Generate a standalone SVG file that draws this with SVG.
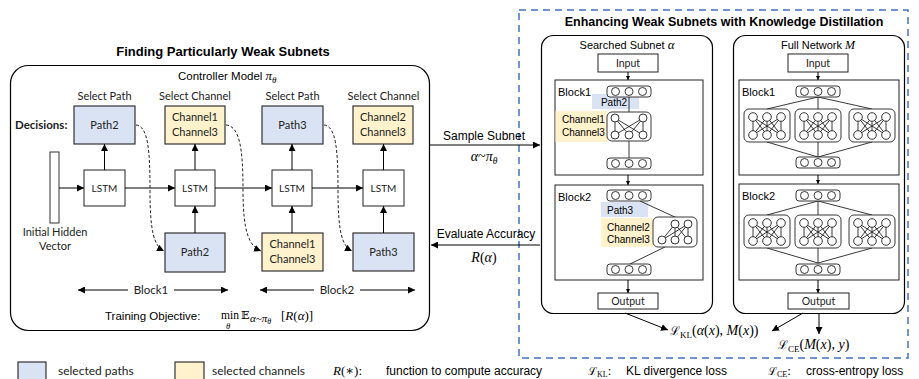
<svg xmlns="http://www.w3.org/2000/svg" xmlns:xlink="http://www.w3.org/1999/xlink" width="919" height="379" viewBox="0 0 919 379">
<style>
.t{font-family:"Liberation Sans",Arial,sans-serif;fill:#000}
.c{font-family:Lato,"Liberation Sans",sans-serif;fill:#222}
.m{font-family:"Liberation Serif","DejaVu Serif",serif;fill:#000}
.sc{font-family:"DejaVu Serif","Liberation Serif",serif}
.i{font-style:italic}
.box{stroke:#333;stroke-width:1.2}
.blue{fill:#DAE3F3}
.yel{fill:#FFF2CC}
.wb{fill:#fff;stroke:#222;stroke-width:1}
.ln{stroke:#000;stroke-width:1;fill:none}
.thin{stroke:#222;stroke-width:0.9;fill:none}
.dash{stroke:#222;stroke-width:1;fill:none;stroke-dasharray:3 2}
.nc{fill:#fff;stroke:#222;stroke-width:0.9}
</style>
<defs>
<marker id="ah" viewBox="0 0 10 10" refX="10" refY="5" markerWidth="7" markerHeight="7" orient="auto-start-reverse"><path d="M0,0 L10,5 L0,10 z" fill="#000"/></marker>
<marker id="as" viewBox="0 0 10 10" refX="10" refY="5" markerWidth="4" markerHeight="4" orient="auto-start-reverse"><path d="M0,0 L10,5 L0,10 z" fill="#000"/></marker>
<g id="L3">
<rect x="0" y="0" width="44" height="11" rx="3" class="nc"/>
<circle cx="8.5" cy="5.5" r="4" class="nc"/><circle cx="22" cy="5.5" r="4" class="nc"/><circle cx="35.5" cy="5.5" r="4" class="nc"/>
</g>
<g id="S33">
<rect x="0" y="0" width="46" height="33" rx="5" class="nc"/>
<path class="thin" d="M9,8 L9,26 M9,8 L23,26 M9,8 L37,26 M23,8 L9,26 M23,8 L23,26 M23,8 L37,26 M37,8 L9,26 M37,8 L23,26 M37,8 L37,26"/>
<circle cx="9" cy="8" r="4.3" class="nc"/><circle cx="23" cy="8" r="4.3" class="nc"/><circle cx="37" cy="8" r="4.3" class="nc"/>
<circle cx="9" cy="26" r="4.3" class="nc"/><circle cx="23" cy="26" r="4.3" class="nc"/><circle cx="37" cy="26" r="4.3" class="nc"/>
</g>
</defs>
<rect width="919" height="379" fill="#fff"/>

<!-- Left panel -->
<g id="left-panel">
<text class="t" x="223" y="56" font-size="13" font-weight="bold" text-anchor="middle">Finding Particularly Weak Subnets</text>
<rect x="10.5" y="65.5" width="419" height="265" rx="18" fill="none" stroke="#000" stroke-width="1.2"/>
<text class="t" x="178" y="80" font-size="11.5">Controller Model <tspan class="m i" font-size="13">π</tspan><tspan class="m i" font-size="9" dy="3">θ</tspan></text>
<text class="c" x="15" y="129" font-size="11.5" font-weight="bold">Decisions:</text>
<text class="c" x="104.5" y="100" font-size="11" text-anchor="middle">Select Path</text>
<text class="c" x="195" y="100" font-size="11" text-anchor="middle">Select Channel</text>
<text class="c" x="292.5" y="100" font-size="11" text-anchor="middle">Select Path</text>
<text class="c" x="383.5" y="100" font-size="11" text-anchor="middle">Select Channel</text>
</g>

<g id="dec-path2"><rect x="74" y="106" width="61" height="38" class="box blue"/><text class="c" x="104.5" y="129" font-size="11" text-anchor="middle">Path2</text></g>
<g id="dec-ch13"><rect x="165" y="106" width="60" height="38" class="box yel"/><text class="c" x="195" y="121" font-size="11" text-anchor="middle">Channel1</text><text class="c" x="195" y="136" font-size="11" text-anchor="middle">Channel3</text></g>
<g id="dec-path3"><rect x="262" y="106" width="61" height="38" class="box blue"/><text class="c" x="292.5" y="129" font-size="11" text-anchor="middle">Path3</text></g>
<g id="dec-ch23"><rect x="353" y="106" width="60" height="38" class="box yel"/><text class="c" x="383" y="121" font-size="11" text-anchor="middle">Channel2</text><text class="c" x="383" y="136" font-size="11" text-anchor="middle">Channel3</text></g>

<g id="hidden-vector"><rect x="50" y="152" width="9" height="71" fill="#fff" stroke="#333" stroke-width="1"/><text class="c" x="55" y="236" font-size="11" text-anchor="middle">Initial Hidden</text><text class="c" x="55" y="250" font-size="11" text-anchor="middle">Vector</text></g>

<g id="lstm1"><rect x="84" y="170" width="41" height="36" class="wb"/><text class="c" x="104.5" y="192" font-size="10" text-anchor="middle">LSTM</text></g>
<g id="lstm2"><rect x="175" y="170" width="40" height="36" class="wb"/><text class="c" x="195" y="192" font-size="10" text-anchor="middle">LSTM</text></g>
<g id="lstm3"><rect x="272" y="170" width="40" height="36" class="wb"/><text class="c" x="292" y="192" font-size="10" text-anchor="middle">LSTM</text></g>
<g id="lstm4"><rect x="363" y="170" width="41" height="36" class="wb"/><text class="c" x="383.5" y="192" font-size="10" text-anchor="middle">LSTM</text></g>

<g id="in-path2"><rect x="165" y="233" width="60" height="39" class="box blue"/><text class="c" x="195" y="256" font-size="11" text-anchor="middle">Path2</text></g>
<g id="in-ch13"><rect x="262" y="233" width="61" height="38" class="box yel"/><text class="c" x="292.5" y="248" font-size="11" text-anchor="middle">Channel1</text><text class="c" x="292.5" y="263" font-size="11" text-anchor="middle">Channel3</text></g>
<g id="in-path3"><rect x="353" y="233" width="61" height="38" class="box blue"/><text class="c" x="383.5" y="256" font-size="11" text-anchor="middle">Path3</text></g>

<g id="block-labels">
<text class="c" x="151" y="294" font-size="11.5" text-anchor="middle">Block1</text>
<text class="c" x="337" y="294" font-size="11.5" text-anchor="middle">Block2</text>
<text class="t" x="105" y="320" font-size="11.5">Training Objective:</text>
<text class="m" x="221" y="319" font-size="11.5">min</text>
<text class="m i" x="226" y="329" font-size="8.5">θ</text>
<text class="sc" x="241" y="319" font-size="11">𝔼</text>
<text class="m i" x="250" y="322" font-size="11">α~π<tspan font-size="8" dy="2">θ</tspan></text>
<text class="m" x="281" y="320" font-size="13">[<tspan class="i">R</tspan>(<tspan class="i">α</tspan>)]</text>
</g>

<!-- Right panel -->
<g id="kd-panel">
<rect x="519" y="10" width="389" height="348" fill="none" stroke="#4472C4" stroke-width="1.5" stroke-dasharray="7 5"/>
<text class="t" x="724" y="26" font-size="12.5" font-weight="bold" text-anchor="middle">Enhancing Weak Subnets with Knowledge Distillation</text>
</g>

<g id="subnet">
<rect x="541.5" y="35.5" width="171" height="278" rx="12" fill="#fff" stroke="#000" stroke-width="1.2"/>
<text class="t" x="627" y="49" font-size="11" text-anchor="middle">Searched Subnet <tspan class="m i" font-size="13">α</tspan></text>
</g>
<g id="sub-input"><rect x="598" y="54" width="60" height="18" class="wb"/><text class="c" x="628" y="67" font-size="10.5" text-anchor="middle">Input</text></g>
<g id="sub-block1">
<rect x="555" y="80" width="148" height="95" fill="#fff" stroke="#222" stroke-width="1"/>
<text class="t" x="558" y="96" font-size="11">Block1</text>
<rect x="592" y="94" width="47" height="15" class="blue"/>
<rect x="555.5" y="111" width="52" height="31" class="yel"/>
<line x1="629" y1="97" x2="629" y2="112" class="thin"/>
<line x1="629" y1="141" x2="629" y2="158" class="thin"/>
<text class="t" x="614" y="106" font-size="10" text-anchor="middle">Path2</text>
<text class="t" x="562" y="123" font-size="10">Channel1</text>
<text class="t" x="562" y="136" font-size="10">Channel3</text>
<use xlink:href="#L3" x="607" y="86"/>
<rect x="607" y="112" width="44" height="29" rx="5" class="nc"/>
<path class="thin" d="M615,118 L615,135 M615,118 L629,135 M615,118 L643,135 M643,118 L615,135 M643,118 L629,135 M643,118 L643,135"/>
<circle cx="615" cy="118" r="4" class="nc"/><circle cx="643" cy="118" r="4" class="nc"/>
<circle cx="615" cy="135" r="4" class="nc"/><circle cx="629" cy="135" r="4" class="nc"/><circle cx="643" cy="135" r="4" class="nc"/>
<use xlink:href="#L3" x="607" y="158"/>
</g>
<g id="sub-block2">
<rect x="555" y="185" width="148" height="95" fill="#fff" stroke="#222" stroke-width="1"/>
<text class="t" x="558" y="201" font-size="11">Block2</text>
<rect x="601" y="202" width="47" height="15" class="blue"/>
<rect x="601" y="218" width="52" height="29" class="yel"/>
<line x1="640" y1="201" x2="677" y2="218" class="thin"/>
<line x1="630" y1="264" x2="665" y2="247" class="thin"/>
<text class="t" x="607" y="214" font-size="10">Path3</text>
<text class="t" x="607" y="231" font-size="10">Channel2</text>
<text class="t" x="607" y="243" font-size="10">Channel3</text>
<use xlink:href="#L3" x="607" y="190"/>
<rect x="653" y="217" width="44" height="30" rx="5" class="nc"/>
<path class="thin" d="M675,224 L662,240 M675,224 L675,240 M675,224 L688,240 M688,224 L662,240 M688,224 L675,240 M688,224 L688,240"/>
<circle cx="675" cy="224" r="4" class="nc"/><circle cx="688" cy="224" r="4" class="nc"/>
<circle cx="662" cy="240" r="4" class="nc"/><circle cx="675" cy="240" r="4" class="nc"/><circle cx="688" cy="240" r="4" class="nc"/>
<use xlink:href="#L3" x="607" y="264"/>
</g>
<g id="sub-output"><rect x="598" y="293" width="60" height="16" class="wb"/><text class="c" x="628" y="305" font-size="10.5" text-anchor="middle">Output</text></g>

<g id="fullnet">
<rect x="733.5" y="35.5" width="171" height="278" rx="12" fill="#fff" stroke="#000" stroke-width="1.2"/>
<text class="t" x="818" y="49" font-size="11" text-anchor="middle">Full Network <tspan class="m i" font-size="12">M</tspan></text>
</g>
<g id="full-input"><rect x="788" y="54" width="60" height="18" class="wb"/><text class="c" x="818" y="67" font-size="10.5" text-anchor="middle">Input</text></g>
<g id="full-block1">
<rect x="739" y="80" width="160" height="95" fill="#fff" stroke="#222" stroke-width="1"/>
<text class="t" x="742" y="96" font-size="11">Block1</text>
<path class="thin" d="M818,97 L767,109 M818,97 L818,158 M818,97 L872,109 M767,142 L818,157 M872,142 L818,157"/>
<use xlink:href="#L3" x="796" y="86"/>
<use xlink:href="#S33" x="744" y="109"/>
<use xlink:href="#S33" x="795" y="109"/>
<use xlink:href="#S33" x="849" y="109"/>
<use xlink:href="#L3" x="796" y="157"/>
</g>
<g id="full-block2">
<rect x="739" y="184" width="160" height="96" fill="#fff" stroke="#222" stroke-width="1"/>
<text class="t" x="742" y="200" font-size="11">Block2</text>
<path class="thin" d="M818,201 L767,215 M818,201 L818,263 M818,201 L872,215 M767,248 L818,263 M872,248 L818,263"/>
<use xlink:href="#L3" x="796" y="190"/>
<use xlink:href="#S33" x="744" y="215"/>
<use xlink:href="#S33" x="795" y="215"/>
<use xlink:href="#S33" x="849" y="215"/>
<use xlink:href="#L3" x="796" y="264"/>
</g>
<g id="full-output"><rect x="788" y="293" width="61" height="16" class="wb"/><text class="c" x="818.5" y="305" font-size="10.5" text-anchor="middle">Output</text></g>

<g id="loss-kl"><text class="m" x="670" y="335" font-size="14"><tspan class="sc" font-size="12">ℒ</tspan><tspan font-size="9" dy="3">KL</tspan><tspan dy="-3">(</tspan><tspan class="i">α</tspan>(<tspan class="i">x</tspan>), <tspan class="i">M</tspan>(<tspan class="i">x</tspan>))</text></g>
<g id="loss-ce"><text class="m" x="778" y="349" font-size="14"><tspan class="sc" font-size="12">ℒ</tspan><tspan font-size="9" dy="3">CE</tspan><tspan dy="-3">(</tspan><tspan class="i">M</tspan>(<tspan class="i">x</tspan>), <tspan class="i">y</tspan>)</text></g>

<!-- middle labels -->
<g id="mid-labels">
<text class="t" x="484" y="140" font-size="12" text-anchor="middle">Sample Subnet</text>
<text class="m" x="484" y="161" font-size="14" text-anchor="middle"><tspan class="i">α</tspan>~<tspan class="i">π</tspan><tspan class="i" font-size="9.5" dy="3">θ</tspan></text>
<text class="t" x="486" y="238" font-size="12" text-anchor="middle">Evaluate Accuracy</text>
<text class="m" x="484" y="262" font-size="14" text-anchor="middle"><tspan class="i">R</tspan>(<tspan class="i">α</tspan>)</text>
</g>

<!-- Connectors -->
<g id="connectors">
<line x1="59" y1="188" x2="84" y2="188" class="ln" marker-end="url(#ah)"/>
<line x1="125" y1="188" x2="175" y2="188" class="ln" marker-end="url(#ah)"/>
<line x1="215" y1="188" x2="272" y2="188" class="ln" marker-end="url(#ah)"/>
<line x1="312" y1="188" x2="363" y2="188" class="ln" marker-end="url(#ah)"/>
<line x1="104.5" y1="170" x2="104.5" y2="144" class="ln" marker-end="url(#ah)"/>
<line x1="195" y1="170" x2="195" y2="144" class="ln" marker-end="url(#ah)"/>
<line x1="292" y1="170" x2="292" y2="144" class="ln" marker-end="url(#ah)"/>
<line x1="383.5" y1="170" x2="383.5" y2="144" class="ln" marker-end="url(#ah)"/>
<line x1="195" y1="233" x2="195" y2="206" class="ln" marker-end="url(#ah)"/>
<line x1="292" y1="233" x2="292" y2="206" class="ln" marker-end="url(#ah)"/>
<line x1="383.5" y1="233" x2="383.5" y2="206" class="ln" marker-end="url(#ah)"/>
<path class="dash" d="M136,125 C148,126 150,150 150,190 C150,232 154,246 164,251" marker-end="url(#ah)"/>
<path class="dash" d="M226,125 C240,126 243,150 243,190 C243,232 249,246 261,251" marker-end="url(#ah)"/>
<path class="dash" d="M324,125 C336,126 338,150 338,190 C338,232 342,246 352,251" marker-end="url(#ah)"/>
<line x1="128" y1="290" x2="78" y2="290" class="ln" stroke-width="0.9" marker-end="url(#ah)"/>
<line x1="174" y1="290" x2="228" y2="290" class="ln" stroke-width="0.9" marker-end="url(#ah)"/>
<line x1="314" y1="290" x2="260" y2="290" class="ln" stroke-width="0.9" marker-end="url(#ah)"/>
<line x1="360" y1="290" x2="415" y2="290" class="ln" stroke-width="0.9" marker-end="url(#ah)"/>
<line x1="430" y1="145" x2="540" y2="145" class="ln" stroke-width="1.3" marker-end="url(#ah)"/>
<line x1="540" y1="245" x2="431" y2="245" class="ln" stroke-width="1.3" marker-end="url(#ah)"/>
<line x1="628" y1="72" x2="628" y2="80" class="ln" stroke-width="0.8" marker-end="url(#as)"/>
<line x1="628" y1="175" x2="628" y2="185" class="ln" stroke-width="0.8" marker-end="url(#as)"/>
<line x1="628" y1="280" x2="628" y2="293" class="ln" stroke-width="0.8" marker-end="url(#as)"/>
<line x1="818" y1="72" x2="818" y2="80" class="ln" stroke-width="0.8" marker-end="url(#as)"/>
<line x1="818" y1="175" x2="818" y2="184" class="ln" stroke-width="0.8" marker-end="url(#as)"/>
<line x1="818" y1="280" x2="818" y2="293" class="ln" stroke-width="0.8" marker-end="url(#as)"/>
<line x1="625" y1="313" x2="668" y2="330" class="ln" stroke-width="0.9" marker-end="url(#ah)"/>
<line x1="803" y1="313" x2="772" y2="331" class="ln" stroke-width="0.9" marker-end="url(#ah)"/>
<line x1="819" y1="314" x2="819" y2="334" class="ln" stroke-width="0.9" marker-end="url(#ah)"/>
</g>

<!-- Legend -->
<g id="legend">
<rect x="18" y="362" width="28" height="20" class="box blue" stroke-width="1"/>
<text class="c" x="58" y="375" font-size="12">selected paths</text>
<rect x="175" y="362" width="29" height="20" class="box yel" stroke-width="1"/>
<text class="c" x="212" y="375" font-size="12">selected channels</text>
<text class="m" x="333" y="375" font-size="13"><tspan class="i">R</tspan>(∗):</text>
<text class="t" x="386" y="375" font-size="12">function to compute accuracy</text>
<text class="m" x="588" y="375" font-size="13"><tspan class="sc" font-size="11">ℒ</tspan><tspan font-size="8" dy="2">KL</tspan><tspan dy="-2">:</tspan></text>
<text class="t" x="626" y="375" font-size="12">KL divergence loss</text>
<text class="m" x="768" y="375" font-size="13"><tspan class="sc" font-size="11">ℒ</tspan><tspan font-size="8" dy="2">CE</tspan><tspan dy="-2">:</tspan></text>
<text class="t" x="806" y="375" font-size="12">cross-entropy loss</text>
</g>
</svg>
